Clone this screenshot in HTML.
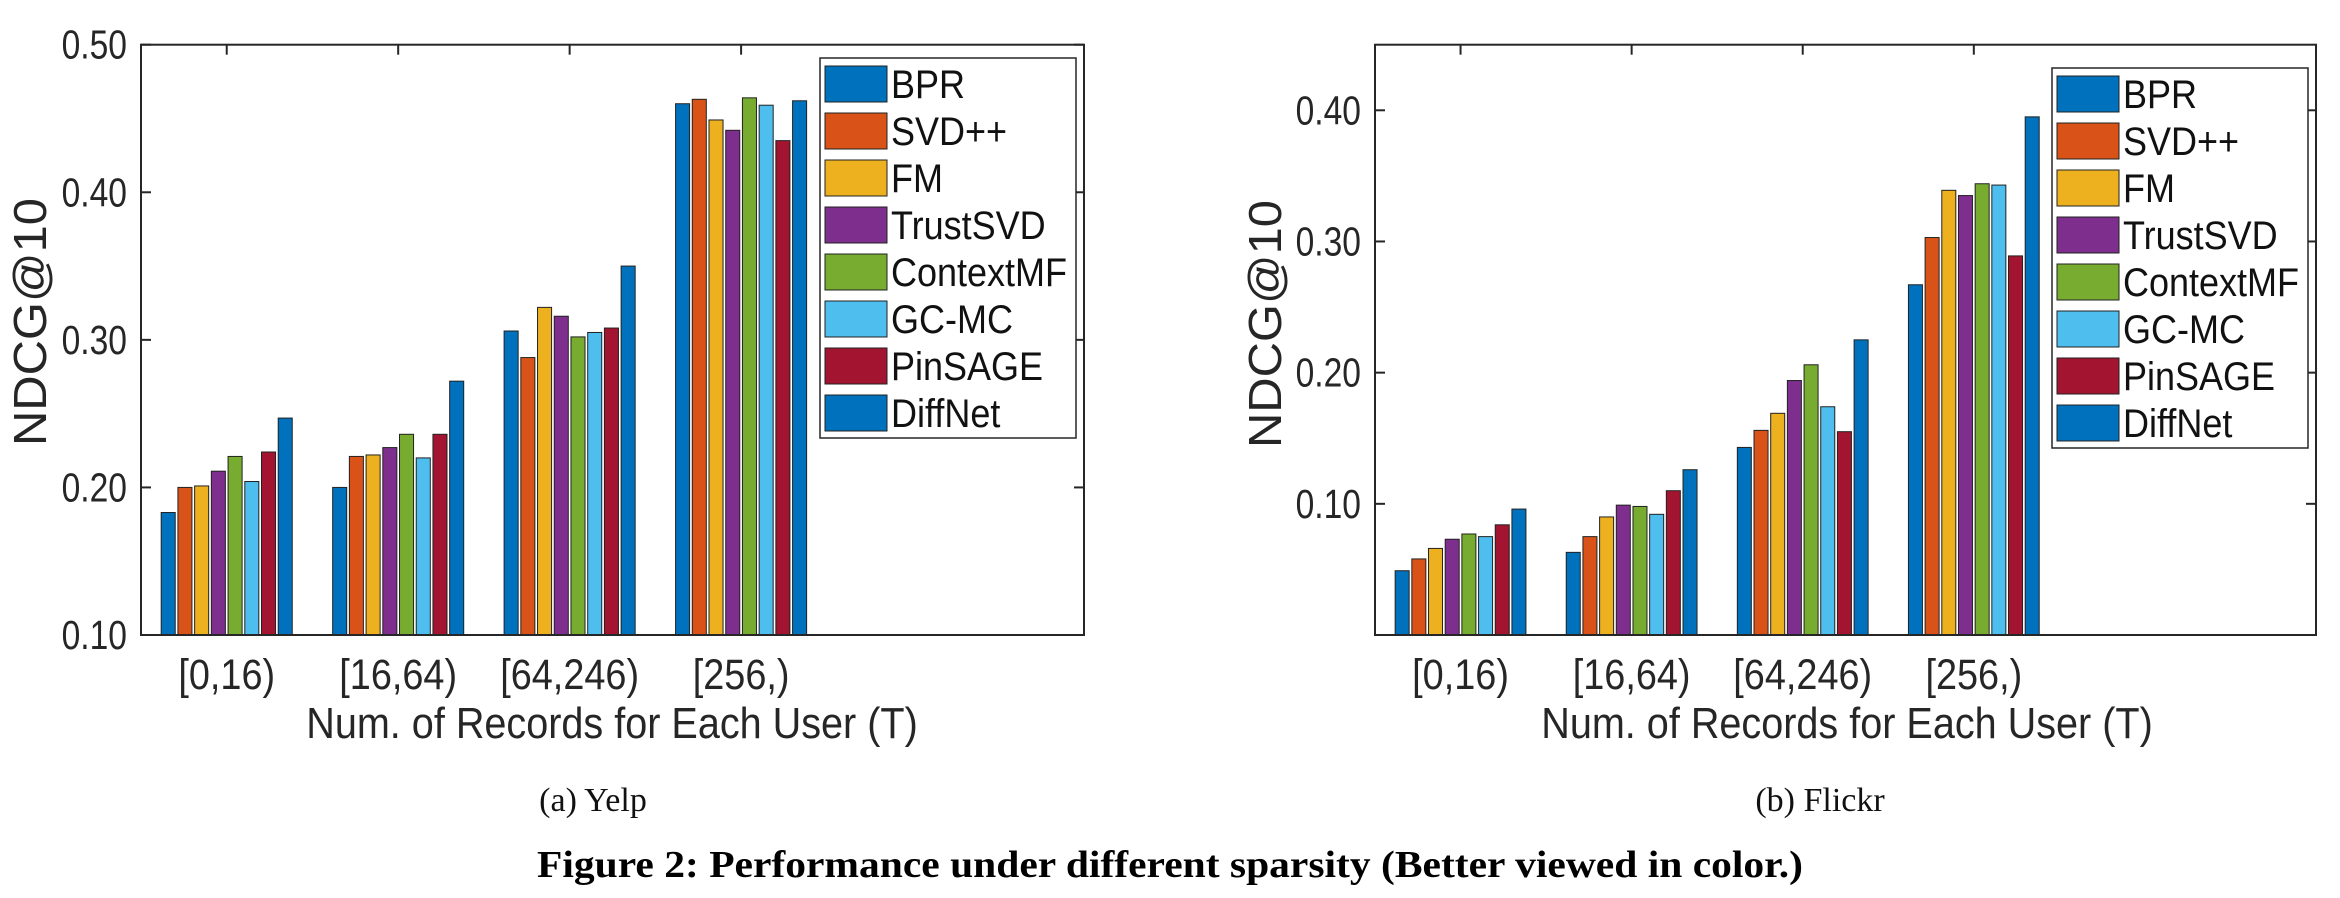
<!DOCTYPE html>
<html><head><meta charset="utf-8"><style>
html,body{margin:0;padding:0;background:#fff;}
svg{display:block;font-family:"Liberation Sans",Arial,sans-serif;}
</style></head><body>
<svg id="fig" width="2340" height="898" viewBox="0 0 2340 898" xmlns="http://www.w3.org/2000/svg">
<text x="593" y="811" font-family="Liberation Serif,serif" font-size="34" text-anchor="middle" fill="#111">(a)  Yelp</text>
<text x="1820" y="811" font-family="Liberation Serif,serif" font-size="34" text-anchor="middle" fill="#111">(b)  Flickr</text>
<text x="1170" y="877" font-family="Liberation Serif,serif" font-weight="bold" font-size="38" text-anchor="middle" textLength="1266" lengthAdjust="spacingAndGlyphs" fill="#000">Figure 2: Performance under different sparsity (Better viewed in color.)</text>
</svg>
<script>
const categories = ["[0,16)", "[16,64)", "[64,246)", "[256,)"];
const seriesNames = ["BPR","SVD++","FM","TrustSVD","ContextMF","GC-MC","PinSAGE","DiffNet"];
const colors = ["#0072BD","#D95319","#EDB120","#7E2F8E","#77AC30","#4DBEEE","#A2142F","#0072BD"];
const yelpValues = [
  [0.183,0.200,0.201,0.211,0.221,0.204,0.224,0.247],
  [0.200,0.221,0.222,0.227,0.236,0.220,0.236,0.272],
  [0.306,0.288,0.322,0.316,0.302,0.305,0.308,0.350],
  [0.460,0.463,0.449,0.442,0.464,0.459,0.435,0.462]
];
const flickrValues = [
  [0.049,0.058,0.066,0.073,0.077,0.075,0.084,0.096],
  [0.063,0.075,0.090,0.099,0.098,0.092,0.110,0.126],
  [0.143,0.156,0.169,0.194,0.206,0.174,0.155,0.225],
  [0.267,0.303,0.339,0.335,0.344,0.343,0.289,0.395]
];
const yelpTicks = [0.10,0.20,0.30,0.40,0.50];
const flickrTicks = [0.10,0.20,0.30,0.40];

const NS = "http://www.w3.org/2000/svg";
const svg = document.getElementById("fig");
function mk(tag, attrs, parent){
  const e = document.createElementNS(NS, tag);
  for (const k in attrs) e.setAttribute(k, attrs[k]);
  (parent||svg).appendChild(e);
  return e;
}
function chart(cfg){
  const g = mk("g", {});
  
  
  const L=cfg.left, R=cfg.right, T=44.7, B=635;
  const y = v => B - (v - cfg.ymin)/(cfg.ymax - cfg.ymin)*(B - T);
  const x = i => L + (i + 1 - 0.5)/(6 - 0.5)*(R - L);
  const slot = (x(1)-x(0))*0.78/8;
  const bw = slot*0.84;
  cfg.values.forEach((grp, gi) => {
    grp.forEach((v, si) => {
      const cx = x(gi) - slot*4 + slot*(si+0.5);
      const r = mk("rect", {x: cx-bw/2, y: y(v), width: bw, height: B - y(v), fill: colors[si], stroke:"#222", "stroke-width":1}, g);
      
      
    });
  });
  const box = mk("rect", {x:L, y:T, width:R-L, height:B-T, fill:"none", stroke:"#262626", "stroke-width":2}, g);
  
  
  cfg.ticks.forEach(t => {
    mk("line", {x1:L, x2:L+10, y1:y(t), y2:y(t), stroke:"#262626","stroke-width":2}, g);
    mk("line", {x1:R, x2:R-10, y1:y(t), y2:y(t), stroke:"#262626","stroke-width":2}, g);
    const tx = mk("text", {"font-size":41, "text-anchor":"end", fill:"#262626", transform:`translate(${L-14},${y(t)+14}) scale(0.82,1)`}, g);
    tx.textContent = t.toFixed(2);
    
    
  });
  categories.forEach((c, i) => {
    mk("line", {x1:x(i), x2:x(i), y1:T, y2:T+10, stroke:"#262626","stroke-width":2}, g);
    const tx = mk("text", {"font-size":43, "text-anchor":"middle", fill:"#262626", transform:`translate(${x(i)},${689}) scale(0.88,1)`}, g);
    tx.textContent = c;
    
    
  });
  const xl = mk("text", {"font-size":44, "text-anchor":"middle", fill:"#262626", transform:`translate(${cfg.xlx},${738}) scale(0.9,1)`}, g);
  xl.textContent = "Num. of Records for Each User (T)";
  
  
  const yl = mk("text", {x:0, y:0, "font-size":46, "text-anchor":"middle", textLength:248, lengthAdjust:"spacingAndGlyphs", fill:"#262626", transform:`translate(${cfg.ylx},${cfg.yly}) rotate(-90)`}, g);
  yl.textContent = "NDCG@10";
  
  
  const lg = mk("g", {}, g);
  
  
  mk("rect", {x:cfg.lgx, y:cfg.lgy, width:256, height:380, fill:"#fff", stroke:"#262626", "stroke-width":1.5}, lg);
  seriesNames.forEach((n, i) => {
    const cy = cfg.lgy + 26 + i*47;
    const e = mk("g", {}, lg);
    
    
    mk("rect", {x:cfg.lgx+5, y:cy-18, width:62, height:36, fill:colors[i], stroke:"#222", "stroke-width":1}, e);
    const t = mk("text", {"font-size":40, fill:"#111", transform:`translate(${cfg.lgx+71},${cy+14}) scale(0.9,1)`}, e);
    t.textContent = n;
  });
}
chart({name:"yelp-chart", left:141, right:1084, ymin:0.10, ymax:0.50, values:yelpValues, ticks:yelpTicks, xlx:612, ylx:46, yly:322, lgx:820, lgy:58});
chart({name:"flickr-chart", left:1375, right:2316, ymin:0.0, ymax:0.45, values:flickrValues, ticks:flickrTicks, xlx:1847, ylx:1281, yly:324, lgx:2052, lgy:68});
</script>
</body></html>
